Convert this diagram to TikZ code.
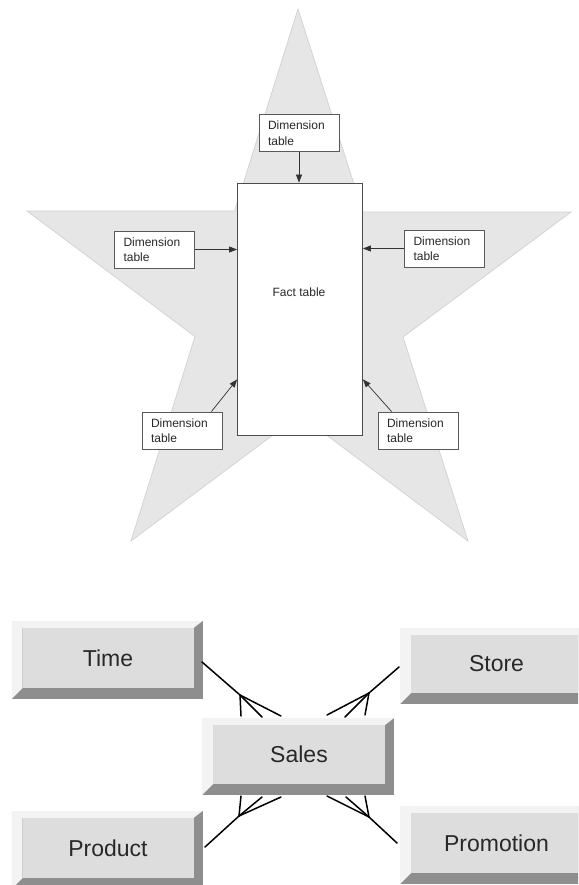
\documentclass[tikz,border=0pt]{standalone}
\usepackage{fontspec}
\setmainfont{Liberation Sans}
\usetikzlibrary{arrows.meta,calc}
\definecolor{starfill}{RGB}{230,230,230}
\definecolor{staredge}{RGB}{212,212,212}
\definecolor{bvface}{RGB}{221,221,221}
\definecolor{bvlight}{RGB}{243,243,243}
\definecolor{bvdark}{RGB}{142,142,142}
\definecolor{txtc}{RGB}{40,40,40}
\tikzset{
  dimbox/.style={draw=black!65, line width=0.8pt, fill=white, text width=62pt,
    inner xsep=9pt, inner ysep=0pt, minimum height=37pt, align=left,
    font=\fontsize{12}{15.5}\selectfont, text=txtc},
  factbox/.style={draw=black!70, line width=0.8pt, fill=white, inner sep=0pt,
    minimum width=125pt, minimum height=252pt},
  lbl/.style={font=\fontsize{12}{14}\selectfont, text=txtc, inner sep=0pt},
  dimarrow/.style={draw=black!80, line width=0.7pt, -{Triangle[length=8pt,width=6pt]}},
  bvnode/.style={fill=bvface, inner sep=0pt, outer sep=0pt,
    font=\fontsize{23}{26}\selectfont, text=txtc},
  crow/.style={draw=black, line width=1.5pt, line cap=round}
}
\newcommand\bevelbox[6]{%
  \fill[bvdark] ({#2-11},{#3-7}) rectangle ({#4+9},{#5+11});
  \fill[bvlight] ({#2-11},{#3-7}) -- ({#4+9},{#3-7}) -- (#4,#3) -- (#2,#3) -- (#2,#5) -- ({#2-11},{#5+11}) -- cycle;
  \node[bvnode, minimum width={#4-#2}, minimum height={#5-#3}] (#1) at ({(#2+#4)/2},{(#3+#5)/2}) {#6};
}
\begin{document}
\begin{tikzpicture}[x=1pt,y=-1pt]
\useasboundingbox (0,0) rectangle (578,885);
\clip (0,0) rectangle (578,885);
% star
\coordinate (sT) at (298,9);
\coordinate (sL) at (27,211);
\coordinate (sR) at (571,212);
\coordinate (sBL) at (131,541);
\coordinate (sBR) at (468,541);
\coordinate (sIUL) at (234.6,211);
\coordinate (sIUR) at (362.9,212);
\coordinate (sIL) at (195,336.5);
\coordinate (sIR) at (403,337);
\coordinate (sIB) at (299.7,415);
\filldraw[fill=starfill, draw=staredge, line width=0.8pt, line join=miter]
  (sT) -- (sIUR) -- (sR) -- (sIR) -- (sBR) -- (sIB) -- (sBL) -- (sIL) -- (sL) -- (sIUL) -- cycle;
% fact table
\node[factbox] (fact) at (300,309) {};
\node[lbl] (facttxt) at (299,292) {Fact table};
% dimension tables
\node[dimbox] (d1) at (299,133) {Dimension\\table};
\node[dimbox] (d2) at (154.5,249.5) {Dimension\\table};
\node[dimbox] (d3) at (444.5,248.5) {Dimension\\table};
\node[dimbox] (d4) at (182,430.5) {Dimension\\table};
\node[dimbox] (d5) at (418,430.5) {Dimension\\table};
\coordinate (f4) at ($(fact.south west)+(0,-56)$);
\coordinate (f5) at ($(fact.south east)+(0,-56)$);
\coordinate (s4) at ($(d4.north east)+(-11,0)$);
\coordinate (s5) at ($(d5.north west)+(14,0)$);
\draw[dimarrow] (d1.south) -- (d1.south |- fact.north);
\draw[dimarrow] (d2.east) -- (d2.east -| fact.west);
\draw[dimarrow] (d3.west) -- (d3.west -| fact.east);
\draw[dimarrow] (s4) -- (f4);
\draw[dimarrow] (s5) -- (f5);
% lower diagram: bevelled boxes
\bevelbox{time}{22.5}{628}{193.5}{688}{Time}
\bevelbox{store}{411}{635}{582}{693}{Store}
\bevelbox{sales}{213}{725}{385}{784}{Sales}
\bevelbox{product}{22.5}{818}{193.5}{878}{Product}
\bevelbox{promo}{411}{813}{582}{873}{Promotion}
% crow's feet connectors
\coordinate (tA) at (202,662);
\coordinate (tF) at (240,695);
\coordinate (tP1) at (241,716);
\coordinate (tP2) at (262,717);
\coordinate (tP3) at (281,716);
\draw[crow] (tA) -- (tF);
\draw[crow] (tF) -- (tP1);
\draw[crow] (tF) -- (tP2);
\draw[crow] (tF) -- (tP3);
\coordinate (rA) at (399,667);
\coordinate (rF) at (369,693);
\coordinate (rP1) at (365,715);
\coordinate (rP2) at (345,717);
\coordinate (rP3) at (327,715);
\draw[crow] (rA) -- (rF);
\draw[crow] (rF) -- (rP1);
\draw[crow] (rF) -- (rP2);
\draw[crow] (rF) -- (rP3);
\coordinate (pA) at (205,847);
\coordinate (pF) at (239,816);
\coordinate (pP1) at (241,796);
\coordinate (pP2) at (262,797);
\coordinate (pP3) at (281,797);
\draw[crow] (pA) -- (pF);
\draw[crow] (pF) -- (pP1);
\draw[crow] (pF) -- (pP2);
\draw[crow] (pF) -- (pP3);
\coordinate (mA) at (397,843);
\coordinate (mF) at (369,817);
\coordinate (mP1) at (365,796);
\coordinate (mP2) at (346,797);
\coordinate (mP3) at (327,796);
\draw[crow] (mA) -- (mF);
\draw[crow] (mF) -- (mP1);
\draw[crow] (mF) -- (mP2);
\draw[crow] (mF) -- (mP3);
\end{tikzpicture}
\end{document}
